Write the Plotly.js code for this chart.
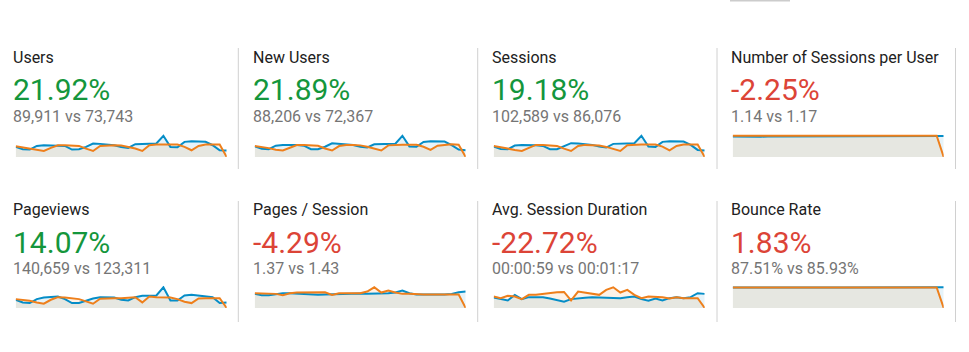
<!DOCTYPE html>
<html><head><meta charset="utf-8">
<script src="https://cdn.plot.ly/plotly-3.0.1.min.js"></script>
<style>html,body{margin:0;padding:0;background:#fff}#chart{width:969px;height:352px}</style>
</head><body><div id="chart"></div>
<script>
// ---- data ----
const metricNames = ["Users","New Users","Sessions","Number of Sessions per User","Pageviews","Pages / Session","Avg. Session Duration","Bounce Rate"];
const changeLabels = ["21.92%","21.89%","19.18%","-2.25%","14.07%","-4.29%","-22.72%","1.83%"];
const compareLabels = ["89,911 vs 73,743","88,206 vs 72,367","102,589 vs 86,076","1.14 vs 1.17","140,659 vs 123,311","1.37 vs 1.43","00:00:59 vs 00:01:17","87.51% vs 85.93%"];
const changeIsGood = [true,true,true,false,true,false,false,false];

const usersCurrent  = [30,23,22,33,35,35,35,33,22,23,30,40,39,37,35,30,27,38,39,39,40,63,30,29,45,47,47,45,35,20,19];
const usersPrevious = [32,29,25,21,18,27,35,35,35,33,25,18,33,35,35,34,30,25,18,35,37,37,37,37,30,20,33,37,37,37,0];
const newUsersCurrent  = [31,24,23,33,35,36,35,33,23,23,30,40,39,38,35,30,28,37,38,38,39,62,31,30,44,46,46,45,35,22,20];
const newUsersPrevious = [32,30,26,21,19,27,35,35,34,33,25,19,32,35,35,34,30,24,19,34,36,36,36,36,30,21,33,36,37,36,0];
const sessionsCurrent  = [31,24,23,34,36,36,35,33,23,23,31,41,40,38,36,31,28,39,40,40,41,63,31,30,45,47,47,46,36,21,19];
const sessionsPrevious = [33,30,25,21,18,27,36,36,35,33,25,18,33,36,35,34,30,25,18,35,37,37,37,37,31,20,33,37,37,37,0];
const sessPerUserCurrent  = [1.13,1.12,1.13,1.12,1.12,1.13,1.13,1.12,1.12,1.13,1.13,1.13,1.12,1.12,1.13,1.13,1.13,1.12,1.13,1.13,1.13,1.15,1.12,1.13,1.13,1.13,1.13,1.12,1.13,1.15,1.16];
const sessPerUserPrevious = [1.17,1.17,1.17,1.16,1.17,1.17,1.17,1.17,1.17,1.16,1.17,1.17,1.17,1.17,1.16,1.17,1.17,1.17,1.17,1.17,1.17,1.17,1.17,1.17,1.17,1.17,1.17,1.17,1.17,1.17,0];
const pageviewsCurrent  = [25,17,15,27,32,33,35,27,15,15,22,29,33,33,32,25,23,33,37,37,38,63,23,23,38,40,38,37,33,15,17];
const pageviewsPrevious = [27,25,22,17,13,25,33,32,30,27,20,13,28,30,30,30,32,33,17,35,33,33,32,27,19,15,29,30,30,30,0];
const pagesPerSessCurrent  = [43,39,39,43,45,45,44,41,40,40,41,42,43,43,43,44,43,43,43,45,47,53,45,41,41,40,41,41,43,48,50];
const pagesPerSessPrevious = [45,45,45,43,39,45,47,47,48,49,48,40,45,45,45,45,50,63,47,53,47,43,43,41,41,41,41,41,41,41,0];
const avgDurationCurrent  = [32,28,23,40,27,33,33,33,29,23,19,27,30,31,33,32,30,30,30,33,35,27,22,29,23,30,33,30,33,45,43];
const avgDurationPrevious = [35,30,37,35,27,40,40,43,45,48,49,23,50,47,45,40,55,63,47,55,40,30,35,35,33,29,33,30,30,30,0];
const bounceCurrent  = [87.4,87.6,86.9,87.5,87.3,87.6,87.5,87.4,87.6,87.5,87.7,87.5,87.4,87.5,87.6,87.5,87.4,87.5,87.6,87.5,87.6,87.5,87.5,87.7,87.5,87.6,87.4,87.5,87.6,87.5,88.2];
const bouncePrevious = [88.0,88.0,87.9,88.0,88.0,88.0,88.4,88.0,88.0,88.0,88.0,87.7,87.7,88.0,88.0,88.0,88.0,88.0,88.0,88.0,88.0,88.0,88.0,88.0,88.0,88.0,88.0,88.0,88.0,88.0,0];

const currentSeries  = [usersCurrent,newUsersCurrent,sessionsCurrent,sessPerUserCurrent,pageviewsCurrent,pagesPerSessCurrent,avgDurationCurrent,bounceCurrent];
const previousSeries = [usersPrevious,newUsersPrevious,sessionsPrevious,sessPerUserPrevious,pageviewsPrevious,pagesPerSessPrevious,avgDurationPrevious,bouncePrevious];

// ---- layout / style ----
const W = 969, H = 352;
const colText = [11, 251, 490, 729];
const colSpark = [15.7, 254.7, 493.7, 732.7];
const sparkW = 211;
const rowOffset = [0, 152];
const dividerX = [238.3, 477.7, 717, 955.5];
const BLUE = '#058dc7', ORANGE = '#ee7f1b';
const GREEN = '#14963c', RED = '#dc4437';
const FONT = 'Roboto, "Open Sans", sans-serif';
const PAD = 1.08;

const px = x => x / W;
const py = y => 1 - y / H;

const traces = [];
const layout = {
  width: W, height: H,
  margin: {l:0, r:0, t:0, b:0},
  paper_bgcolor: '#fff', plot_bgcolor: 'rgba(0,0,0,0)',
  showlegend: false,
  annotations: [], shapes: []
};

for (let k = 0; k < 8; k++) {
  const col = k % 4, row = Math.floor(k / 4);
  const off = rowOffset[row];
  const cur = currentSeries[k], prev = previousSeries[k];
  const idx = cur.map((_, i) => i);
  const ax = k + 1;
  const xa = 'x' + (ax === 1 ? '' : ax), ya = 'y' + (ax === 1 ? '' : ax);
  const ymax = Math.max(...cur, ...prev);
  const bottom = (row === 0 ? 157 : 308);
  const topLine = (row === 0 ? 135.8 : 287.3);
  const top = bottom - (bottom - topLine) * PAD;
  layout['xaxis' + (ax === 1 ? '' : ax)] = {
    domain: [px(colSpark[col]), px(colSpark[col] + sparkW)],
    range: [0, cur.length - 1], visible: false, fixedrange: true, anchor: ya
  };
  layout['yaxis' + (ax === 1 ? '' : ax)] = {
    domain: [py(bottom), py(top)],
    range: [0, ymax * PAD], visible: false, fixedrange: true, anchor: xa
  };
  const base = {x: idx, mode: 'lines', xaxis: xa, yaxis: ya, hoverinfo: 'skip'};
  traces.push(Object.assign({}, base, {y: cur, fill: 'tozeroy', fillcolor: 'rgba(5,141,199,0.10)', line: {width: 0, color: 'rgba(0,0,0,0)'}}));
  traces.push(Object.assign({}, base, {y: prev, fill: 'tozeroy', fillcolor: 'rgba(237,126,23,0.10)', line: {width: 0, color: 'rgba(0,0,0,0)'}}));
  traces.push(Object.assign({}, base, {y: cur, line: {width: 2, color: BLUE}}));
  traces.push(Object.assign({}, base, {y: prev, line: {width: 2, color: ORANGE}}));

  const tx = px(colText[col]);
  layout.annotations.push({xref:'paper', yref:'paper', x: tx, y: py(57.5 + off), xanchor:'left', yanchor:'middle',
    text: metricNames[k], showarrow:false, font:{family:FONT, size:16, color:'#212121'}});
  layout.annotations.push({xref:'paper', yref:'paper', x: tx, y: py(90 + off), xanchor:'left', yanchor:'middle',
    text: changeLabels[k], showarrow:false, font:{family:FONT, size:30, color: changeIsGood[k] ? GREEN : RED}});
  layout.annotations.push({xref:'paper', yref:'paper', x: tx, y: py(116.5 + off), xanchor:'left', yanchor:'middle',
    text: compareLabels[k], showarrow:false, font:{family:FONT, size:16, color:'#757575'}});

  layout.shapes.push({type:'line', xref:'paper', yref:'paper', x0: px(dividerX[col]), x1: px(dividerX[col]),
    y0: py(row === 0 ? 48 : 201), y1: py(row === 0 ? 169 : 322), line:{color:'#d0d0d0', width:1}});
}
layout.shapes.push({type:'rect', xref:'paper', yref:'paper', x0: px(730), x1: px(790), y0: py(1.5), y1: 1,
  fillcolor:'#cccccc', line:{width:0}});

Plotly.newPlot('chart', traces, layout, {displayModeBar: false, staticPlot: true});
</script></body></html>
